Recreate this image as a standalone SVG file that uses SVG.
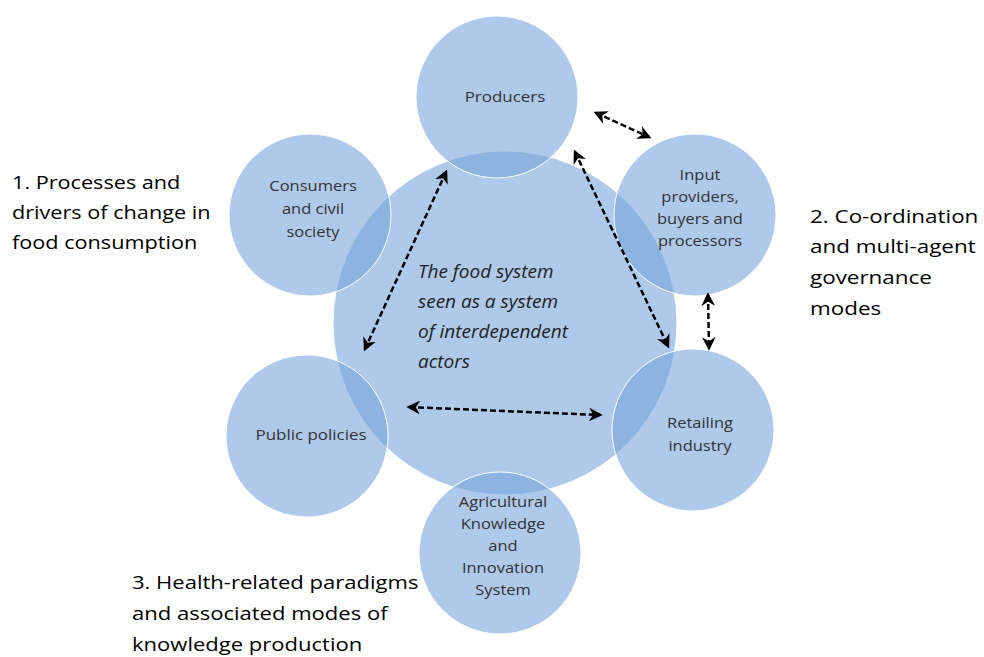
<svg xmlns="http://www.w3.org/2000/svg" width="984" height="657" viewBox="0 0 984 657">
<defs>
<style>
.c{fill:rgb(118,163,218);fill-opacity:0.59;stroke:#ffffff;stroke-width:1}
.t{font-family:"Open Sans","Liberation Sans",sans-serif;font-size:15px;fill:#333;text-anchor:middle}
.o{font-family:"Open Sans","Liberation Sans",sans-serif;font-size:19px;fill:#000}
.m{font-family:"Open Sans","Liberation Sans",sans-serif;font-size:19px;font-style:italic;fill:#222}
.a{fill:none;stroke:#000;stroke-width:2.5;stroke-dasharray:6,3;marker-start:url(#h);marker-end:url(#h)}
</style>
<marker id="h" viewBox="0 0 10 10" refX="8" refY="5" markerWidth="5.5" markerHeight="5.5" orient="auto-start-reverse" markerUnits="strokeWidth">
<path d="M0,0 L10,5 L0,10 L3,5 Z" fill="#000"/>
</marker>
</defs>
<rect width="984" height="657" fill="#fff"/>
<g id="center"><circle class="c" cx="505" cy="323" r="172"/></g>
<g id="producers"><circle class="c" cx="497" cy="97" r="81"/>
<g transform="translate(505,0) scale(1.13,1)"><text class="t" x="0" y="102">Producers</text></g></g>
<g id="input"><circle class="c" cx="695" cy="215" r="81"/>
<g transform="translate(700,0) scale(1.1,1)"><text class="t" x="0" y="180">Input</text><text class="t" x="0" y="202">providers,</text><text class="t" x="0" y="224">buyers and</text><text class="t" x="0" y="246">processors</text></g></g>
<g id="retailing"><circle class="c" cx="693" cy="430" r="81"/>
<g transform="translate(700,0) scale(1.1,1)"><text class="t" x="0" y="428">Retailing</text><text class="t" x="0" y="451">industry</text></g></g>
<g id="akis"><circle class="c" cx="500" cy="553" r="81"/>
<g transform="translate(503,0) scale(1.1,1)"><text class="t" x="0" y="507">Agricultural</text><text class="t" x="0" y="529">Knowledge</text><text class="t" x="0" y="551">and</text><text class="t" x="0" y="573">Innovation</text><text class="t" x="0" y="595">System</text></g></g>
<g id="public"><circle class="c" cx="307" cy="436" r="81"/>
<g transform="translate(311,0) scale(1.13,1)"><text class="t" x="0" y="440">Public policies</text></g></g>
<g id="consumers"><circle class="c" cx="310" cy="215" r="81"/>
<g transform="translate(313,0) scale(1.1,1)"><text class="t" x="0" y="191">Consumers</text><text class="t" x="0" y="214">and civil</text><text class="t" x="0" y="237">society</text></g></g>
<g id="centertext">
<text class="m" x="418" y="278">The food system</text>
<text class="m" x="418" y="308">seen as a system</text>
<text class="m" x="418" y="338">of interdependent</text>
<text class="m" x="418" y="368">actors</text>
</g>
<g id="connectors">
<line class="a" x1="596" y1="113" x2="649" y2="137"/>
<line class="a" x1="446" y1="172" x2="365" y2="349"/>
<line class="a" x1="575" y1="152" x2="668" y2="346"/>
<line class="a" x1="409" y1="407" x2="600" y2="415"/>
<line class="a" x1="708" y1="295" x2="709" y2="348"/>
</g>
<g id="labels">
<g transform="translate(12,0) scale(1.14,1)">
<text class="o" x="0" y="189">1. Processes and</text>
<text class="o" x="0" y="219">drivers of change in</text>
<text class="o" x="0" y="249">food consumption</text>
</g>
<g transform="translate(810,0) scale(1.18,1)">
<text class="o" x="0" y="223">2. Co-ordination</text>
<text class="o" x="0" y="253">and multi-agent</text>
<text class="o" x="0" y="284">governance</text>
<text class="o" x="0" y="315">modes</text>
</g>
<g transform="translate(132,0) scale(1.16,1)">
<text class="o" x="0" y="589">3. Health-related paradigms</text>
<text class="o" x="0" y="620">and associated modes of</text>
<text class="o" x="0" y="651">knowledge production</text>
</g>
</g>
</svg>
